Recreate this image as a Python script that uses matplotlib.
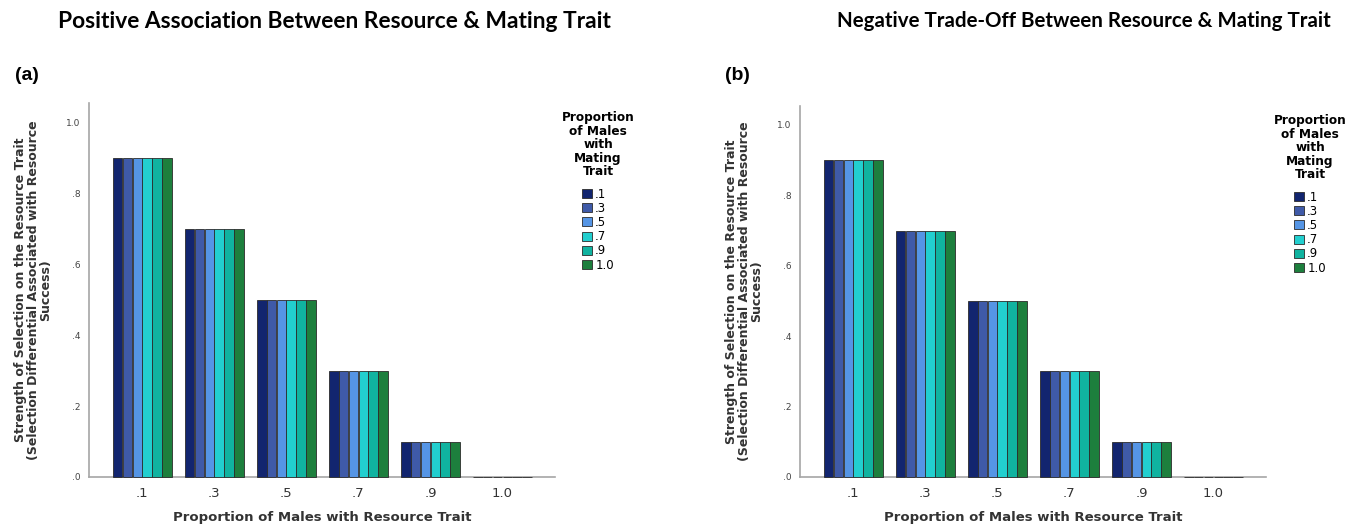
import matplotlib
matplotlib.use("Agg")
import matplotlib.pyplot as plt
from matplotlib.patches import Patch
import numpy as np

# Data
resource_props = [".1", ".3", ".5", ".7", ".9", "1.0"]
mating_props = [".1", ".3", ".5", ".7", ".9", "1.0"]
# strength of selection per resource proportion (same across mating proportions)
positive_vals = [
    [0.9, 0.9, 0.9, 0.9, 0.9, 0.9],
    [0.7, 0.7, 0.7, 0.7, 0.7, 0.7],
    [0.5, 0.5, 0.5, 0.5, 0.5, 0.5],
    [0.3, 0.3, 0.3, 0.3, 0.3, 0.3],
    [0.1, 0.1, 0.1, 0.1, 0.1, 0.1],
    [0.0, 0.0, 0.0, 0.0, 0.0, 0.0],
]
tradeoff_vals = [
    [0.9, 0.9, 0.9, 0.9, 0.9, 0.9],
    [0.7, 0.7, 0.7, 0.7, 0.7, 0.7],
    [0.5, 0.5, 0.5, 0.5, 0.5, 0.5],
    [0.3, 0.3, 0.3, 0.3, 0.3, 0.3],
    [0.1, 0.1, 0.1, 0.1, 0.1, 0.1],
    [0.0, 0.0, 0.0, 0.0, 0.0, 0.0],
]
y_ticks = [0.0, 0.2, 0.4, 0.6, 0.8, 1.0]
y_ticklabels = [".0", ".2", ".4", ".6", ".8", "1.0"]
colors = ["#12256f", "#3f5aa8", "#5595e5", "#22cfcf", "#10b3a0", "#1d7f3d"]

titles = ["Positive Association Between Resource & Mating Trait",
          "Negative Trade-Off Between Resource & Mating Trait"]
panel_tags = ["(a)", "(b)"]

W, H = 1359, 527
fig = plt.figure(figsize=(W / 100, H / 100), dpi=100)

def fx(px):
    return px / W

def fy(py):
    return 1 - py / H

# axes rectangles in pixel space: left, right, zero-line y, top y, y of value 1.0
panels = [
    dict(l=89, r=555, y0=477, ytop=103, y1=123, title_x=334, title_size=16.4,
         tag_x=15, leg_x=598, leg_y=111, vals=positive_vals),
    dict(l=800, r=1266, y0=477, ytop=106, y1=125, title_x=1084, title_size=14.8,
         tag_x=725, leg_x=1310, leg_y=114, vals=tradeoff_vals),
]

ylabel = ("Strength of Selection on the Resource Trait\n"
          "(Selection Differential Associated with Resource\n"
          "Success)")

group_w = 0.82
n = len(mating_props)
bw = group_w / n
x = np.arange(len(resource_props))

for p, title, tag in zip(panels, titles, panel_tags):
    ax = fig.add_axes([fx(p["l"]), fy(p["y0"]), fx(p["r"] - p["l"]),
                       (p["y0"] - p["ytop"]) / H])
    vals = np.array(p["vals"])
    for j in range(n):
        offs = (j - (n - 1) / 2) * bw
        ax.bar(x + offs, vals[:, j], width=bw * 0.97, color=colors[j],
               edgecolor="#2b2b2b", linewidth=0.6, zorder=3, clip_on=False)
    ax.set_xlim(-0.74, 5.73)
    ax.set_ylim(0, (p["y0"] - p["ytop"]) / (p["y0"] - p["y1"]))
    for s in ["top", "right"]:
        ax.spines[s].set_visible(False)
    for s in ["left", "bottom"]:
        ax.spines[s].set_color("#a6a6a6")
        ax.spines[s].set_linewidth(1.2)
    ax.set_yticks(y_ticks)
    ax.set_yticklabels(y_ticklabels, fontsize=6.5, color="#444444")
    ax.set_xticks(x)
    ax.set_xticklabels(resource_props, fontsize=9.5, color="#333333")
    ax.tick_params(axis="both", length=0)
    ax.tick_params(axis="y", pad=6)
    ax.tick_params(axis="x", pad=7)
    ax.set_xlabel("Proportion of Males with Resource Trait", fontsize=9.5,
                  fontweight="bold", color="#333333", labelpad=8)
    ax.set_ylabel(ylabel, fontsize=9, fontweight="bold", color="#333333",
                  linespacing=0.95, labelpad=10, multialignment="center")

    fig.text(fx(p["title_x"]), fy(21), title, family="Lato", fontweight="bold",
             fontsize=p["title_size"], ha="center", va="center", color="black")
    fig.text(fx(p["tag_x"]), fy(75), tag, family="Liberation Sans",
             fontweight="bold", fontsize=14, ha="left", va="center")

    handles = [Patch(facecolor=c, edgecolor="#2b2b2b", linewidth=0.6)
               for c in colors]
    leg = fig.legend(handles, mating_props, loc="upper center",
                     bbox_to_anchor=(fx(p["leg_x"]), fy(p["leg_y"])),
                     frameon=False, fontsize=8.5,
                     title="Proportion\nof Males\nwith\nMating\nTrait",
                     title_fontproperties={"weight": "bold", "size": 8.7},
                     handlelength=0.8, handleheight=0.8, handletextpad=0.3,
                     labelspacing=0.1, borderpad=0, borderaxespad=0)
    leg.get_title().set_linespacing(1.05)
    leg.get_title().set_multialignment("center")
    leg._legend_box.sep = 7

fig.savefig("out.png", dpi=100)
